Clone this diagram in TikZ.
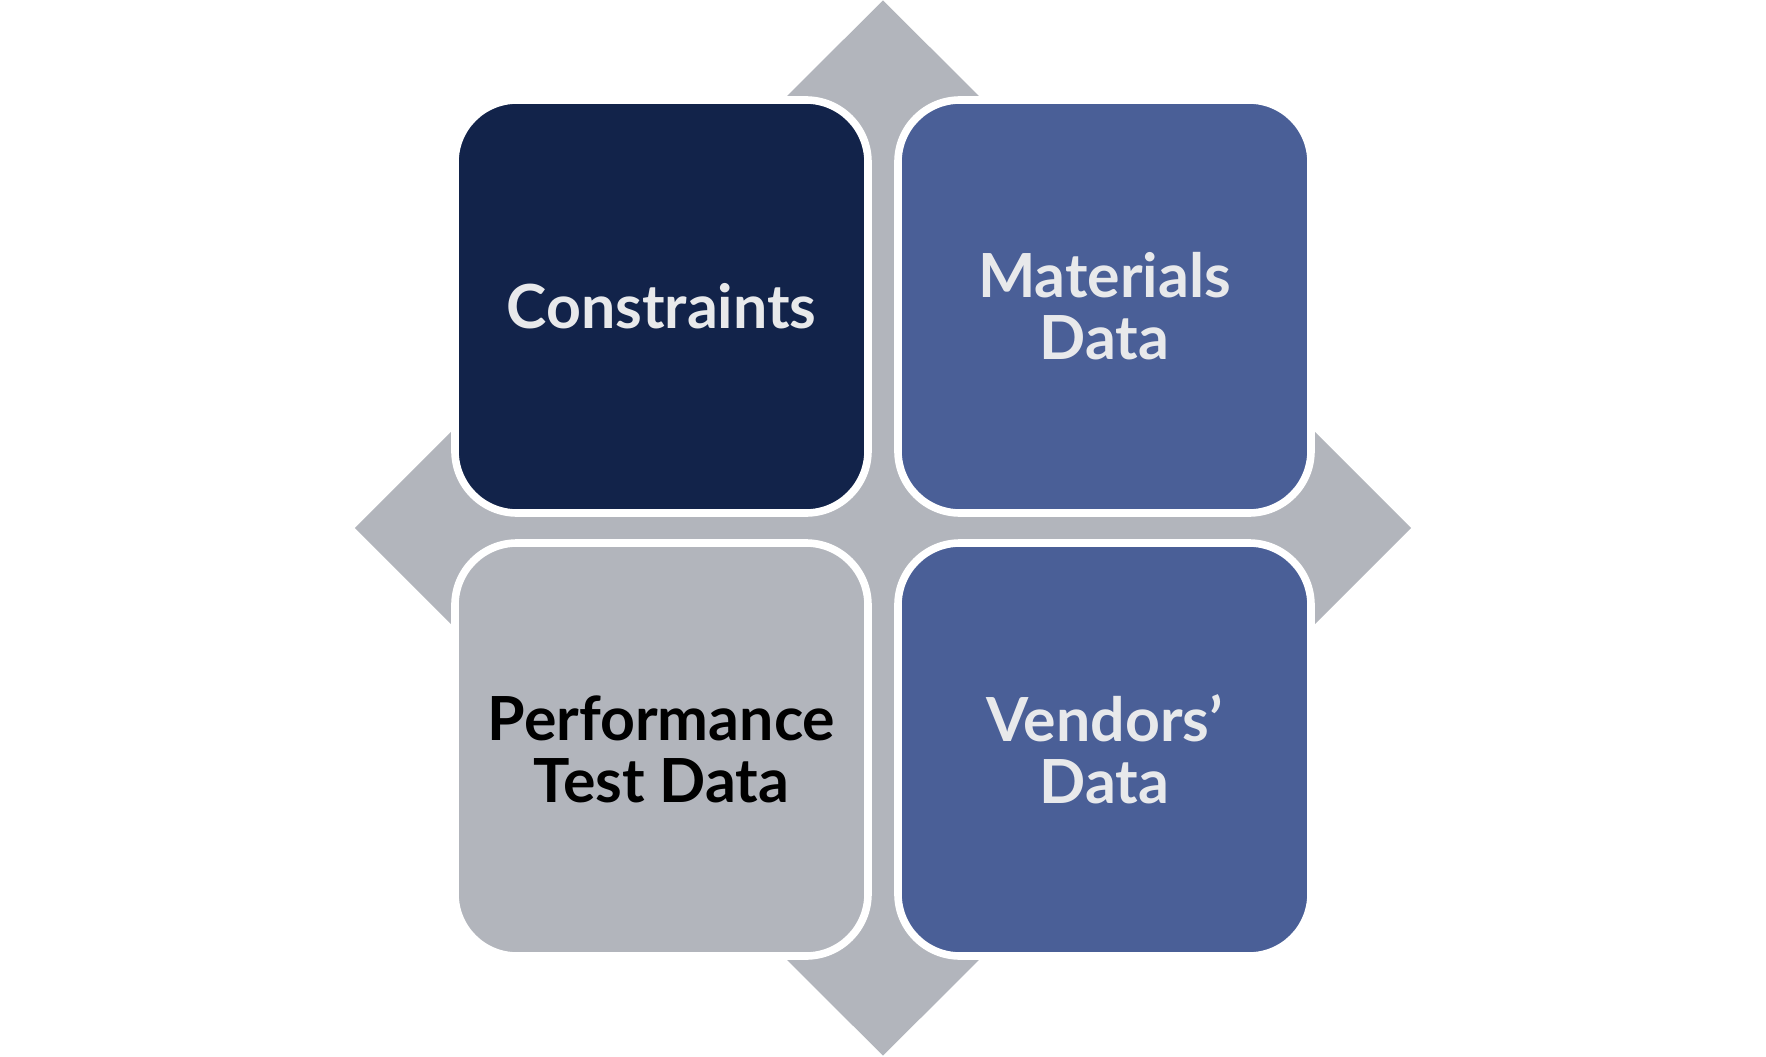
\documentclass[tikz,border=0pt]{standalone}
\usepackage{fontspec}
\setmainfont{Lato}
\usetikzlibrary{shapes.geometric}

\definecolor{navy}{HTML}{12234A}
\definecolor{steel}{HTML}{4A5F97}
\definecolor{silver}{HTML}{B2B5BC}
\definecolor{paper}{HTML}{E8E9EB}

\begin{document}
\begin{tikzpicture}[
    tile/.style = {shape = rectangle, rounded corners = 0.62cm, draw = white, line width = 0.076cm,
        minimum size = 4.13cm, inner sep = 0pt, align = center,
        font = \fontsize{17.3}{17.6}\selectfont\bfseries}]
    \useasboundingbox (-8.83,-5.28) rectangle (8.83,5.28);
    \node (D) [shape = diamond, fill = silver, inner sep = 0pt, aspect = 1,
        minimum width = 10.57cm, minimum height = 10.56cm] at (0,0) {};
    \node (C) [tile, fill = navy, text = paper] at (-2.215,2.215) {Constraints};
    \node (M) [tile, fill = steel, text = paper] at (2.215,2.215) {Materials\\Data};
    \node (P) [tile, fill = silver, text = black] at (-2.215,-2.215) {Performance\\Test Data};
    \node (V) [tile, fill = steel, text = paper] at (2.215,-2.215) {Vendors’\\Data};
\end{tikzpicture}
\end{document}
